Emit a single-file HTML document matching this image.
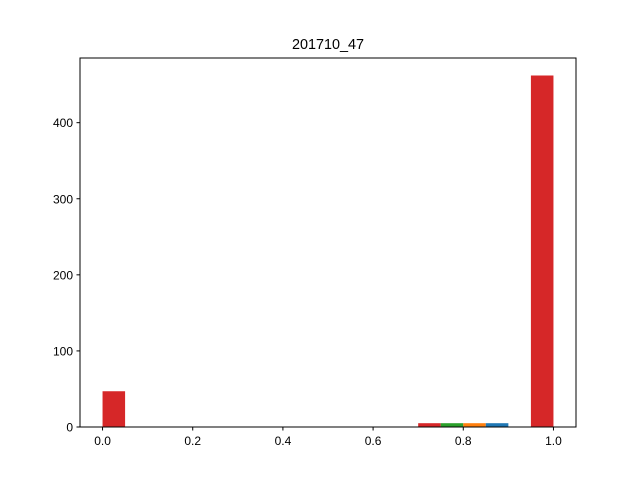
<!DOCTYPE html>
<html><head><meta charset="utf-8"><style>body{margin:0;background:#fff}svg{display:block;font-family:"Liberation Sans","DejaVu Sans",sans-serif}</style></head>
<body>
<svg id="c" width="640" height="480">
<rect width="640" height="480" fill="#fff"/>
<text x="328" y="49" font-size="14.4" text-anchor="middle">201710_47</text>
<g id="bars"></g>
<g id="axes"></g>
<rect x="80" y="58" width="496" height="369" fill="none" stroke="#000" stroke-width="1"/>
</svg>
<script>
const binStarts = [0.0, 0.7, 0.75, 0.8, 0.85, 0.95];
const binCounts = [47, 5, 5, 5, 5, 462];
const binColors = ['#d62728','#d62728','#2ca02c','#ff7f0e','#1f77b4','#d62728'];
const binWidth = 0.05;
const xTicks = [0, 0.2, 0.4, 0.6, 0.8, 1.0];
const xTickLabels = ['0.0','0.2','0.4','0.6','0.8','1.0'];
const yTicks = [0, 100, 200, 300, 400];
const L=80,R=576,T=58,B=427, xmin=-0.05,xmax=1.05,ymax=485;
const sx=v=>L+(v-xmin)/(xmax-xmin)*(R-L);
const sy=v=>B-v/ymax*(B-T);
const NS='http://www.w3.org/2000/svg';
const bars=document.getElementById('bars'), axes=document.getElementById('axes');
binStarts.forEach((s,i)=>{
  const r=document.createElementNS(NS,'rect');
  r.setAttribute('x',sx(s)); r.setAttribute('width',sx(s+binWidth)-sx(s));
  r.setAttribute('y',sy(binCounts[i])); r.setAttribute('height',B-sy(binCounts[i]));
  r.setAttribute('fill',binColors[i]);
  
  
  bars.appendChild(r);
});
xTicks.forEach((v,i)=>{
  const x=sx(v);
  const l=document.createElementNS(NS,'line');
  l.setAttribute('x1',x);l.setAttribute('x2',x);l.setAttribute('y1',B);l.setAttribute('y2',B+3.5);l.setAttribute('stroke','#000');
  
  
  axes.appendChild(l);
  const t=document.createElementNS(NS,'text');
  t.setAttribute('x',x);t.setAttribute('y',B+18);t.setAttribute('font-size','12');t.setAttribute('text-anchor','middle');
  t.textContent=xTickLabels[i];
  
  
  axes.appendChild(t);
});
yTicks.forEach(v=>{
  const y=sy(v);
  const l=document.createElementNS(NS,'line');
  l.setAttribute('x1',L-3.5);l.setAttribute('x2',L);l.setAttribute('y1',y);l.setAttribute('y2',y);l.setAttribute('stroke','#000');
  
  
  axes.appendChild(l);
  const t=document.createElementNS(NS,'text');
  t.setAttribute('x',L-7);t.setAttribute('y',y+4.5);t.setAttribute('font-size','12');t.setAttribute('text-anchor','end');
  t.textContent=String(v);
  
  
  axes.appendChild(t);
});
</script>
</body></html>
